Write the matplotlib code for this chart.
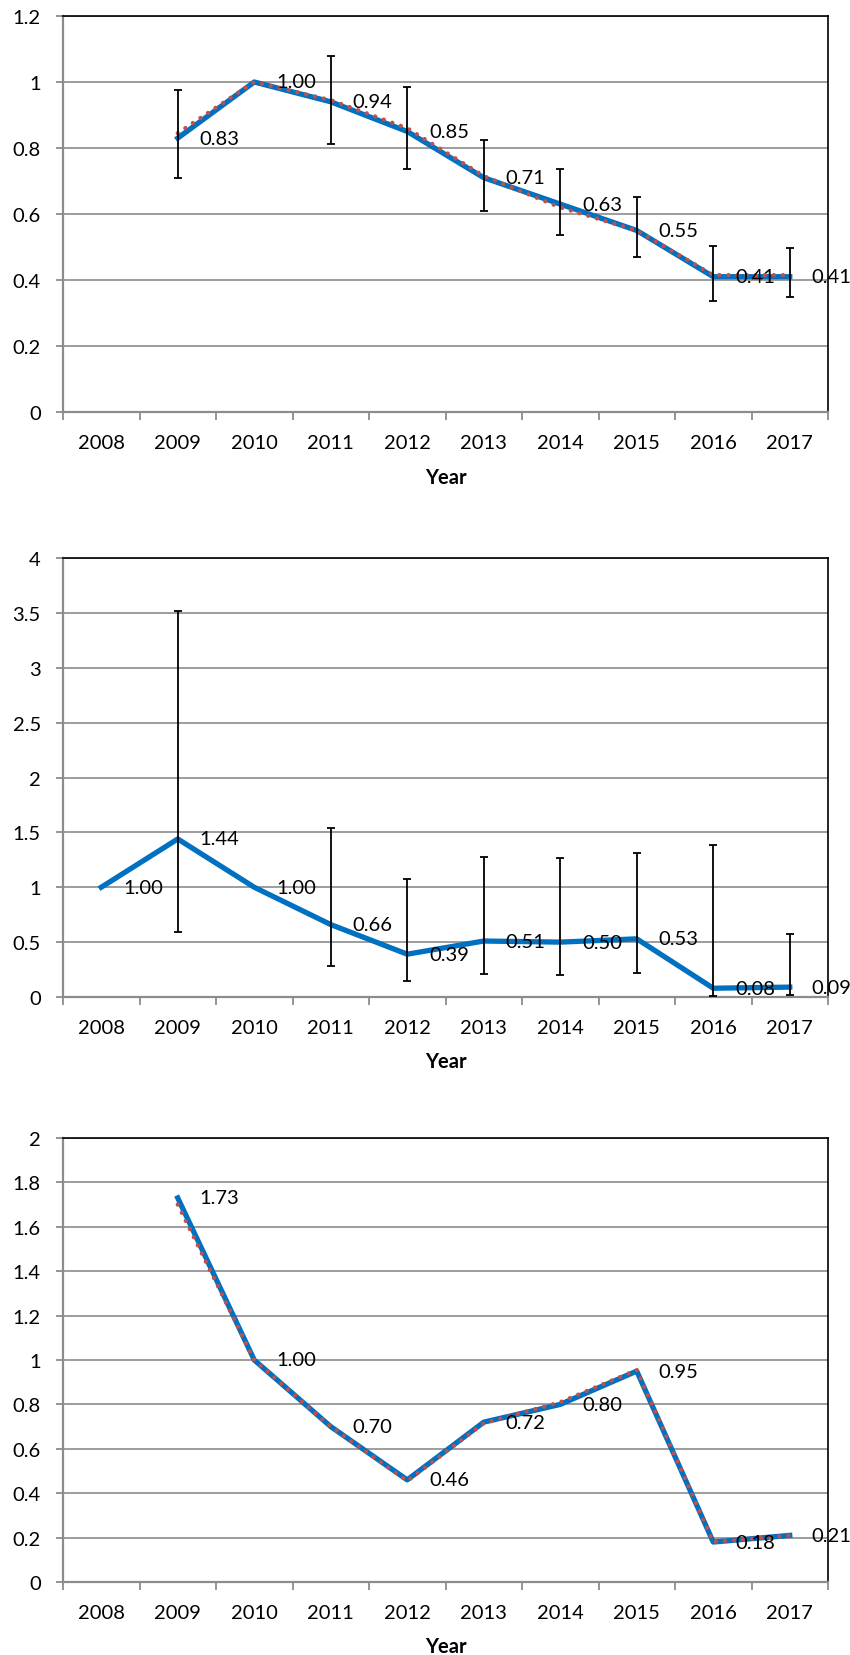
import numpy as np
import matplotlib.pyplot as plt
from matplotlib.ticker import FuncFormatter

plt.rcParams['font.family'] = ['Lato', 'DejaVu Sans']

years = ['2008', '2009', '2010', '2011', '2012', '2013', '2014', '2015', '2016', '2017']
nan = np.nan

# top chart: index with error range, plus the dotted companion series
top_blue = [nan, 0.83, 1.00, 0.94, 0.85, 0.71, 0.63, 0.55, 0.41, 0.41]
top_red = [nan, 0.845, 1.00, 0.945, 0.86, 0.715, 0.62, 0.55, 0.415, 0.415]
top_low = [nan, 0.709, nan, 0.813, 0.736, 0.609, 0.537, 0.470, 0.335, 0.348]
top_high = [nan, 0.977, nan, 1.078, 0.984, 0.825, 0.735, 0.652, 0.504, 0.497]

# middle chart
mid_blue = [1.00, 1.44, 1.00, 0.66, 0.39, 0.51, 0.50, 0.53, 0.08, 0.09]
mid_low = [nan, 0.59, nan, 0.285, 0.149, 0.21, 0.203, 0.219, 0.012, 0.018]
mid_high = [nan, 3.52, nan, 1.54, 1.075, 1.273, 1.266, 1.312, 1.388, 0.577]

# bottom chart
bot_blue = [nan, 1.73, 1.00, 0.70, 0.46, 0.72, 0.80, 0.95, 0.18, 0.21]
bot_red = [nan, 1.70, 1.00, 0.70, 0.455, 0.715, 0.81, 0.955, 0.18, 0.21]

BLUE = '#0070C0'
RED = '#C0504D'
GRID = '#8C8C8C'

fig = plt.figure(figsize=(8.5, 16.56), dpi=100)

# axes boxes in figure fractions (left, bottom, width, height)
boxes = [
    (63 / 850, 1 - 413 / 1656, 765 / 850, 396 / 1656),
    (63 / 850, 1 - 998 / 1656, 765 / 850, 439 / 1656),
    (63 / 850, 1 - 1583 / 1656, 765 / 850, 444 / 1656),
]
ylims = [(1.2, 0.2), (4, 0.5), (2, 0.2)]

x = np.arange(len(years)) + 0.5


def fmt(v, pos):
    return '%g' % round(v, 2)


def setup(ax, ymax, step):
    ax.set_xlim(0, 10)
    ax.set_ylim(0, ymax)
    ax.set_yticks(np.arange(0, ymax + step / 2, step))
    ax.yaxis.set_major_formatter(FuncFormatter(fmt))
    ax.set_xticks(range(11))
    ax.set_xticklabels([])
    ax.set_xticks(x, minor=True)
    ax.set_xticklabels(years, minor=True)
    ax.tick_params(axis='x', which='major', length=6, width=1.3, color=GRID, direction='out')
    ax.tick_params(axis='x', which='minor', length=0, pad=16, labelsize=14.5)
    ax.tick_params(axis='y', length=5, width=1.3, color=GRID, pad=11, labelsize=14.5)
    ax.grid(axis='y', color=GRID, lw=1.2, zorder=0)
    ax.set_axisbelow(True)
    for s in ('left', 'bottom'):
        ax.spines[s].set_color(GRID)
        ax.spines[s].set_linewidth(1.6)
    for s in ('top', 'right'):
        ax.spines[s].set_color('black')
        ax.spines[s].set_linewidth(1.2)
    ax.set_xlabel('Year', fontsize=14.5, fontweight='bold', labelpad=11)


def labels(ax, vals):
    for xi, v in zip(x, vals):
        if np.isnan(v):
            continue
        ax.annotate('%.2f' % v, (xi, v), xytext=(22, 0), textcoords='offset pixels',
                    ha='left', va='center', fontsize=14.5, zorder=6)


def errbars(ax, centre, low, high):
    c = np.array(centre, dtype=float)
    lo = np.array(low, dtype=float)
    hi = np.array(high, dtype=float)
    ok = ~np.isnan(lo)
    ax.errorbar(x[ok], c[ok], yerr=[c[ok] - lo[ok], hi[ok] - c[ok]], fmt='none',
                ecolor='black', elinewidth=1.3, capsize=2.7, capthick=1.3, zorder=5)


axes = [fig.add_axes(b) for b in boxes]
for ax, (ymax, step) in zip(axes, ylims):
    setup(ax, ymax, step)

dotted = dict(color=RED, lw=3.1, linestyle=(0, (0.01, 2.1)), dash_capstyle='round',
              solid_capstyle='round', zorder=4)

ax = axes[0]
ax.plot(x, top_blue, color=BLUE, lw=3.8, zorder=3)
ax.plot(x, top_red, **dotted)
errbars(ax, top_red, top_low, top_high)
labels(ax, top_blue)

ax = axes[1]
ax.plot(x, mid_blue, color=BLUE, lw=3.8, zorder=3)
errbars(ax, mid_blue, mid_low, mid_high)
labels(ax, mid_blue)

ax = axes[2]
ax.plot(x, bot_blue, color=BLUE, lw=3.8, zorder=3)
ax.plot(x, bot_red, **dotted)
labels(ax, bot_blue)

fig.savefig('out.png', dpi=100)
